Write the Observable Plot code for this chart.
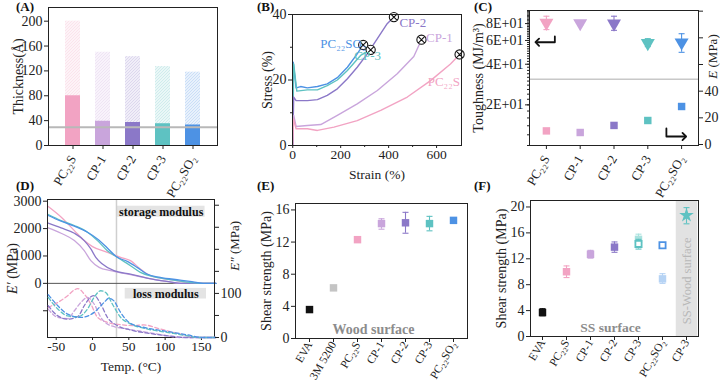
<!DOCTYPE html>
<html><head><meta charset="utf-8">
<script src="https://cdn.jsdelivr.net/npm/d3@7"></script>
<script src="https://cdn.jsdelivr.net/npm/@observablehq/plot@0.6"></script>
<style>
body{margin:0;background:#fff;}
#root{position:relative;width:720px;height:381px;overflow:hidden;background:#fff;}
#root svg{position:absolute;}
.pl{position:absolute;font:bold 13px "Liberation Serif",serif;color:#111;line-height:15px;}
</style></head><body><div id="root"></div>
<script>
// ---------- shared categories ----------
const samples = ["PC22S","CP-1","CP-2","CP-3","PC22SO2"];
const sampleText = ["PC₂₂S","CP-1","CP-2","CP-3","PC₂₂SO₂"];
const palette = ["#f2a3c3","#c9a5dc","#8b78c8","#5ec2c2","#4d92e4"];

// ---------- (A) thickness ----------
const thickTotal = [200,150,143,127,118];
const thickInner = [80,39,37,35,33];
const thickRef = [29.5];

// ---------- (B) stress–strain [strain, stress] ----------
const ssPC22SO2 = [[0,0],[2,25.4],[14,17.6],[33,18],[61,17.6],[103,18],[144,18.8],[186,20.7],[228,23.9],[269,28],[294,30.7]];
const ssCP3 = [[0,0],[4,24.9],[17,16.6],[61,17],[103,17],[144,18.3],[186,20],[228,22.9],[283,27.5],[325,29.2]];
const ssCP2 = [[0,0],[4,14.8],[14,13.7],[61,13.7],[103,14],[144,15.3],[186,17.3],[228,20.4],[269,23.9],[311,28],[353,32.6],[394,37.2],[422,39.2]];
const ssCP1 = [[0,0],[4,9.2],[14,5.8],[61,6.1],[117,6.4],[186,9.2],[269,12.7],[353,16.8],[436,21.9],[505,27.2],[537,32.3]];
const ssPC22S = [[0,0],[3,8.1],[14,5.1],[61,5.1],[103,4.6],[172,5.6],[269,7.6],[367,10.7],[478,14.8],[575,19.8],[658,24.9],[696,27.8]];
const labelsB = [
  {s:"PC22SO2", text:"PC₂₂SO₂", x:115, y:31.1},
  {s:"CP-3", text:"CP-3", x:257, y:27.5},
  {s:"CP-2", text:"CP-2", x:445, y:37.4},
  {s:"CP-1", text:"CP-1", x:556, y:33},
  {s:"PC22S", text:"PC₂₂S", x:563, y:19.3}
];

// ---------- (C) toughness (log, left) & modulus (right) ----------
const toughness = [81,80.5,80,57.3,58];
const toughLo = [72.2,78,71.3,54,49];
const toughHi = [90.7,83,90.7,61.9,67.3];
const modulusE = [10.2,9.0,14.3,18.0,28.5];
const modulusLo = [10.2,9.0,14.3,18.0,27];
const modulusHi = [10.2,9.0,14.3,18.0,30];
const dividerC = [31];
const arrowLeftC = [[0.25,64.3],[0.25,58.2],[-0.27,58.2]];   // [index, toughness]
const arrowRightC = [[3.55,12],[3.55,6],[4.08,6]];           // [index, E]

// ---------- (D) DMA [T, value] ----------
const stPC22S = [[-61,2806],[-43,2415],[-25,1927],[-11.4,1561],[0,1342],[20.4,1134],[38.6,951],[52.3,829],[65.9,524],[79.6,280],[102.3,158],[129.6,37],[143,0],[170,0]];
const stCP3 = [[-61,2514],[-43.3,2294],[-25,2112],[-6.9,1868],[6.8,1561],[20.4,1195],[34.1,951],[52.3,646],[65.9,402],[84.1,244],[111.4,122],[134.1,37],[148,0],[170,0]];
const stPC22SO2 = [[-61,2478],[-43.3,2270],[-25,2087],[-6.9,1868],[6.8,1622],[20.4,1293],[34.1,951],[47.8,805],[61.4,585],[75,341],[93.2,219],[120.5,122],[134.1,73],[152.3,0],[170,0]];
const stCP2 = [[-61,2197],[-43.3,2026],[-25,1831],[-11.4,1561],[-2.3,1256],[4.5,951],[13.6,707],[29.5,463],[52.3,341],[75,195],[102.3,73],[125,0],[170,0]];
const stCP1 = [[-61,2026],[-43.3,1831],[-25,1561],[-11.4,1195],[-2.3,829],[9.1,585],[25,463],[52.3,317],[75,195],[102.3,73],[120.5,0],[170,0]];
const lsPC22S = [[-61,68],[-47.8,79.5],[-34.2,94.7],[-25,108],[-20.5,111],[-11.4,98.5],[-2.3,76],[6.8,45.9],[20.4,34.5],[38.6,29.2],[56.8,27],[70.5,28.5],[93.2,19.4],[120.5,8],[143,0],[170,0]];
const lsCP3 = [[-61,91],[-47.8,64.5],[-34.2,49],[-20.5,47],[-6.9,64.5],[2.2,91],[11.3,106],[18.2,102],[27.3,76],[38.6,45.9],[52.3,30.8],[75,19.4],[102.3,11.8],[129.6,4.2],[148,0],[170,0]];
const lsPC22SO2 = [[-61,97],[-47.8,72],[-34.2,53],[-16,45.5],[2.2,57],[15.9,79.5],[22.7,89],[29.5,83],[38.6,57],[52.3,32],[75,21.5],[102.3,13.9],[129.6,6.3],[152.3,0],[170,0]];
const lsCP2 = [[-61,72],[-47.8,49],[-34.2,41.7],[-20.5,47],[-11.4,72],[-2.3,92.5],[2.2,95],[11.3,76],[20.4,45.9],[34.1,27],[52.3,17],[79.6,9],[111.4,2.3],[129.6,0],[170,0]];
const lsCP1 = [[-61,64.5],[-47.8,45.5],[-34.2,43],[-25,60.6],[-16,79.5],[-6.9,91],[2.2,76],[11.3,45.9],[25,27],[47.8,19.4],[75,11.8],[102.3,4.2],[120.5,0],[170,0]];
const tempMark = [33];
const boxesD = [
  {text:"storage modulus", x1:34, x2:155, y1:2415, y2:2817},
  {text:"loss modulus", x1:45, x2:157, y1:-571, y2:-183}
];

// ---------- (E) wood lap shear ----------
const woodCats = ["EVA","3M 5200","PC22S","CP-1","CP-2","CP-3","PC22SO2"];
const woodText = ["EVA","3M 5200","PC₂₂S","CP-1","CP-2","CP-3","PC₂₂SO₂"];
const woodShear = [3.6,6.3,12.3,14.3,14.4,14.3,14.7];
const woodLo = [3.5,6.2,12.2,13.6,13.1,13.4,14.5];
const woodHi = [3.7,6.4,12.4,14.9,15.7,15.2,14.9];

// ---------- (F) stainless-steel lap shear ----------
const ssCats = ["EVA","PC22S","CP-1","CP-2","CP-3","PC22SO2","CP-3*"];
const ssText = ["EVA","PC₂₂S","CP-1","CP-2","CP-3","PC₂₂SO₂","CP-3"];
const ssFilledCats = ["EVA","PC22S","CP-1","CP-2"];
const ssFilled = [3.7,10.0,12.7,13.8];
const ssFilledLo = [3.2,9.1,12.1,13.0];
const ssFilledHi = [4.3,10.9,13.3,14.6];
const ssLightCats = ["CP-3","PC22SO2"];
const ssLight = [15.0,8.9];
const ssLightLo = [14.4,8.2];
const ssLightHi = [15.8,9.7];
const ssOpenCats = ["CP-3","PC22SO2"];
const ssOpen = [14.3,14.1];
const ssOpenLo = [13.5,13.7];
const ssOpenHi = [15.0,14.4];
const ssWoodCats = ["CP-3*"];
const ssWood = [18.7];
const ssWoodLo = [17.4];
const ssWoodHi = [19.9];

// ================= rendering =================
const root = document.getElementById("root");
const FONT = "Liberation Serif";
const AX = "#222";
const st = (fs=13)=>({fontFamily:FONT,fontSize:fs+"px",color:AX,background:"transparent",overflow:"visible"});
function put(svg,left,top){svg.style.left=left+"px";svg.style.top=top+"px";root.appendChild(svg);return svg;}
function plabel(t,left,top){const d=document.createElement("div");d.className="pl";d.textContent=t;d.style.left=left+"px";d.style.top=top+"px";root.appendChild(d);}
const sText = d=>sampleText[samples.indexOf(d)];
const plain = d=>String(d);
const otimes = {draw(ctx,size){const r=Math.sqrt(size/Math.PI);ctx.moveTo(r,0);ctx.arc(0,0,r,0,2*Math.PI);const a=r*0.72;ctx.moveTo(-a,-a);ctx.lineTo(a,a);ctx.moveTo(-a,a);ctx.lineTo(a,-a);}};
const hbar = {draw(ctx,size){const r=Math.sqrt(size/Math.PI);ctx.moveTo(-r,0);ctx.lineTo(r,0);}};
const pairs = (arr,s)=>arr.map(([x,y])=>({s,x,y}));
const errMarks = (data,x,stroke)=>[
  Plot.ruleX(data,{x,y1:"lo",y2:"hi",stroke,strokeWidth:1.1}),
  Plot.dot(data,{x,y:"lo",symbol:hbar,r:3,stroke,fill:"none",strokeWidth:1.1}),
  Plot.dot(data,{x,y:"hi",symbol:hbar,r:3,stroke,fill:"none",strokeWidth:1.1})
];

// (A)
const tableA = samples.map((s,i)=>({s,total:thickTotal[i],inner:thickInner[i]}));
const svgA = Plot.plot({
  width:240,height:190,marginLeft:48,marginRight:23,marginTop:7,marginBottom:45,style:st(14),
  x:{domain:samples,padding:0.5,label:null},
  y:{domain:[0,222],label:null},
  color:{domain:samples,range:palette},
  marks:[
    ...samples.map((s,i)=>Plot.barY(tableA.filter(d=>d.s===s),{x:"s",y:"total",fill:`url(#hatchA${i})`})),
    Plot.barY(tableA,{x:"s",y:"inner",fill:"s"}),
    Plot.ruleY(thickRef,{stroke:"#b8b8b8",strokeWidth:2}),
    Plot.frame({stroke:AX}),
    Plot.axisX({tickRotate:-60,tickFormat:sText,tickSize:4,label:null,fontSize:13}),
    Plot.axisY({ticks:[0,40,80,120,160,200],tickSize:4,tickPadding:2,tickFormat:plain,label:"Thickness(Å)",labelAnchor:"center",labelArrow:"none",labelOffset:35,fontSize:14})
  ]
});
put(svgA,0,0);
(function(){const ns="http://www.w3.org/2000/svg";const defs=document.createElementNS(ns,"defs");
  palette.forEach((c,i)=>{const p=document.createElementNS(ns,"pattern");p.setAttribute("id","hatchA"+i);p.setAttribute("patternUnits","userSpaceOnUse");p.setAttribute("width",3);p.setAttribute("height",3);
  p.innerHTML=`<rect width="3" height="3" fill="${c}" fill-opacity="0.13"/><path d="M-1,1l2,-2M0,3l3,-3M2,4l2,-2" stroke="${c}" stroke-opacity="0.32" stroke-width="0.6"/>`;defs.appendChild(p);});
  svgA.insertBefore(defs,svgA.firstChild);})();

// (B)
const rowsB = [...pairs(ssPC22SO2,"PC22SO2"),...pairs(ssCP3,"CP-3"),...pairs(ssCP2,"CP-2"),...pairs(ssCP1,"CP-1"),...pairs(ssPC22S,"PC22S")];
const breaksB = [[ssPC22SO2,"PC22SO2"],[ssCP3,"CP-3"],[ssCP2,"CP-2"],[ssCP1,"CP-1"],[ssPC22S,"PC22S"]].map(([a,s])=>({s,x:a[a.length-1][0],y:a[a.length-1][1]}));
const svgB = Plot.plot({
  width:240,height:190,marginLeft:52,marginRight:19,marginTop:14,marginBottom:45,style:st(14),
  x:{domain:[-1,704],label:null},
  y:{domain:[0,40],label:null},
  color:{domain:samples,range:palette},
  marks:[
    Plot.line(rowsB,{x:"x",y:"y",z:"s",stroke:"s",strokeWidth:1.4}),
    Plot.dot(breaksB,{x:"x",y:"y",symbol:otimes,r:4.6,stroke:"#111",fill:"white",strokeWidth:1.1}),
    Plot.text(labelsB,{x:"x",y:"y",text:"text",fill:"s",textAnchor:"start",fontSize:13}),
    Plot.frame({stroke:AX}),
    Plot.axisX({ticks:[100,300,500],tickSize:2,tickFormat:()=>""}),
    Plot.axisX({ticks:[0,200,400,600],tickSize:3,tickPadding:1,tickFormat:plain,fontSize:13.5,label:"Strain (%)",labelAnchor:"center",labelArrow:"none",labelOffset:33}),
    Plot.axisY({ticks:[10,30],tickSize:2,tickFormat:()=>""}),
    Plot.axisY({ticks:[0,20,40],tickSize:4,tickPadding:2,tickFormat:plain,label:"Stress (%)",labelAnchor:"center",labelArrow:"none",labelOffset:30})
  ]
});
put(svgB,240,0);

// (C)
const tableC = samples.map((s,i)=>({i,s,t:toughness[i],lo:toughLo[i],hi:toughHi[i],e:modulusE[i],elo:modulusLo[i],ehi:modulusHi[i]}));
const tableCE = tableC.map(d=>({i:d.i,s:d.s,v:d.e,lo:d.elo,hi:d.ehi}));
const tableCT = tableC.map(d=>({i:d.i,s:d.s,v:d.t,lo:d.lo,hi:d.hi}));
const geoC = {width:250,height:190,marginLeft:59,marginRight:22,marginTop:10,marginBottom:45};
const xC = {domain:[-0.5,4.5],label:null};
const svgC1 = Plot.plot({
  ...geoC,style:st(14),
  x:xC,
  y:{type:"log",domain:[10,100],label:null},
  color:{domain:samples,range:palette},
  marks:[
    Plot.ruleY(dividerC,{stroke:"#c8c8c8",strokeWidth:1.5}),
    ...errMarks(tableCT,"i","s"),
    Plot.dot(tableCT,{x:"i",y:"v",symbol:"triangle",rotate:180,r:5.2,fill:"s"}),
    Plot.line(arrowLeftC,{x:d=>d[0],y:d=>d[1],stroke:"#111",strokeWidth:1.8,markerEnd:"arrow"}),
    Plot.frame({stroke:AX}),
    Plot.axisX({ticks:[0,1,2,3,4],tickRotate:-60,tickFormat:i=>sampleText[i],tickSize:4,label:null,fontSize:13}),
    Plot.axisY({ticks:d3.range(10,101,2),tickSize:2,tickFormat:()=>""}),
    Plot.axisY({ticks:[20,40,60,80],tickSize:4,tickPadding:2,tickFormat:d=>(d/10)+"E+01",label:"Toughness (MJ/m³)",labelAnchor:"center",labelArrow:"none",labelOffset:56})
  ]
});
put(svgC1,470,0);
const svgC2 = Plot.plot({
  ...geoC,style:st(14),
  x:{...xC,axis:null},
  y:{domain:[-0.75,100.5],label:null},
  color:{domain:samples,range:palette},
  marks:[
    Plot.ruleX(tableCE,{x:"i",y1:"lo",y2:"hi",stroke:"s",strokeWidth:1.2}),
    Plot.dot(tableCE,{x:"i",y:"v",symbol:"square",r:4.2,fill:"s"}),
    Plot.line(arrowRightC,{x:d=>d[0],y:d=>d[1],stroke:"#111",strokeWidth:1.8,markerEnd:"arrow"}),
    Plot.axisY({anchor:"right",ticks:[0,20,40,60,80,100],tickSize:4,tickPadding:2,tickFormat:d=>d<=40?d:"",label:null}),
    Plot.text(["E (MPa)"],{y:()=>66,frameAnchor:"right",textAnchor:"middle",lineAnchor:"middle",rotate:-90,dx:14,text:d=>d,fontSize:13,fill:AX})
  ]
});
put(svgC2,470,0);

// (D)
const geoD = {width:240,height:191,marginLeft:47,marginRight:26,marginTop:9,marginBottom:44};
const rowsSt = [...pairs(stPC22S,"PC22S"),...pairs(stCP1,"CP-1"),...pairs(stCP2,"CP-2"),...pairs(stCP3,"CP-3"),...pairs(stPC22SO2,"PC22SO2")];
const rowsLs = [...pairs(lsPC22S,"PC22S"),...pairs(lsCP1,"CP-1"),...pairs(lsCP2,"CP-2"),...pairs(lsCP3,"CP-3"),...pairs(lsPC22SO2,"PC22SO2")];
const svgD1 = Plot.plot({
  ...geoD,style:st(14),
  x:{domain:[-62,168],label:null},
  y:{domain:[-1976,3062],label:null},
  color:{domain:samples,range:palette},
  marks:[
    Plot.rect(boxesD,{x1:"x1",x2:"x2",y1:"y1",y2:"y2",fill:"#e4e4e4"}),
    Plot.text(boxesD,{x:d=>(d.x1+d.x2)/2,y:d=>(d.y1+d.y2)/2,text:"text",fontWeight:"bold",fontSize:12,fill:"#111"}),
    Plot.ruleX(tempMark,{stroke:"#cfcfcf",strokeWidth:1.5}),
    Plot.ruleY([0],{stroke:"#555",strokeWidth:1}),
    Plot.line(rowsSt,{x:"x",y:"y",z:"s",stroke:"s",strokeWidth:1.3,curve:"monotone-x"}),
    Plot.frame({stroke:AX}),
    Plot.axisX({ticks:[-50,0,50,100,150],tickSize:3,tickPadding:1,tickFormat:plain,fontSize:13.5,label:"Temp. (°C)",labelAnchor:"center",labelArrow:"none",labelOffset:33}),
    Plot.axisY({ticks:[-1000,0,1000,2000,3000],tickSize:4,tickPadding:2,tickFormat:d=>d>=0?String(d):"",label:"E′ (MPa)",labelAnchor:"center",labelArrow:"none",labelOffset:40})
  ]
});
put(svgD1,0,190);
const svgD2 = Plot.plot({
  ...geoD,style:st(14),
  x:{domain:[-62,168],label:null,axis:null},
  y:{domain:[0,313],label:null},
  color:{domain:samples,range:palette},
  marks:[
    Plot.line(rowsLs,{x:"x",y:"y",z:"s",stroke:"s",strokeWidth:1.3,strokeDasharray:"4,2.5",curve:"monotone-x"}),
    Plot.axisY({anchor:"right",ticks:[0,50,100,150,200,250,300],tickSize:4,tickPadding:2,tickFormat:d=>(d===0||d===100)?d:"",label:null}),
    Plot.text(["E″ (MPa)"],{y:()=>208,frameAnchor:"right",textAnchor:"middle",lineAnchor:"middle",rotate:-90,dx:20,text:d=>d,fontSize:13,fill:AX})
  ]
});
put(svgD2,0,190);

// (E)
const tableE = woodCats.map((c,i)=>({c,v:woodShear[i],lo:woodLo[i],hi:woodHi[i]}));
const woodColors = ["#111111","#c4c4c4",...palette];
const svgE = Plot.plot({
  width:240,height:191,marginLeft:55,marginRight:13,marginTop:13,marginBottom:43,style:st(14),
  x:{domain:woodCats,padding:0.5,label:null},
  y:{domain:[0,16.8],label:null},
  color:{domain:woodCats,range:woodColors},
  marks:[
    ...errMarks(tableE,"c","c"),
    Plot.dot(tableE,{x:"c",y:"v",symbol:"square",r:4.2,fill:"c"}),
    Plot.text(["Wood surface"],{frameAnchor:"bottom",dy:-9,dx:-8,text:d=>d,textAnchor:"middle",lineAnchor:"middle",fontWeight:"bold",fontSize:14,fill:"#8c8c8c"}),
    Plot.frame({stroke:AX}),
    Plot.axisX({tickRotate:-60,tickFormat:d=>woodText[woodCats.indexOf(d)],tickSize:4,tickPadding:0,label:null,fontSize:11.5}),
    Plot.axisY({ticks:[0,4,8,12,16],tickSize:4,tickPadding:2,tickFormat:plain,label:"Shear strength (MPa)",labelAnchor:"center",labelArrow:"none",labelOffset:34,fontSize:14})
  ]
});
put(svgE,240,190);

// (F)
const mk = (cats,v,lo,hi,g)=>cats.map((c,i)=>({c,v:v[i],lo:lo[i],hi:hi[i],g}));
const fFilled = mk(ssFilledCats,ssFilled,ssFilledLo,ssFilledHi,"filled");
const fLight = mk(ssLightCats,ssLight,ssLightLo,ssLightHi,"light");
const fOpen = mk(ssOpenCats,ssOpen,ssOpenLo,ssOpenHi,"open");
const fWood = mk(ssWoodCats,ssWood,ssWoodLo,ssWoodHi,"wood");
const fBase = d=>({"EVA":"#111111","PC22S":palette[0],"CP-1":palette[1],"CP-2":palette[2],"CP-3":palette[3],"PC22SO2":palette[4],"CP-3*":palette[3]})[d.c];
const fLightColor = d=>d.c==="CP-3"?"#a9e2de":"#b6d3f4";
const fColor = d=>d.g==="light"?fLightColor(d):fBase(d);
const svgF = Plot.plot({
  width:240,height:191,marginLeft:50,marginRight:22,marginTop:10,marginBottom:45,style:st(14),
  x:{domain:ssCats,padding:0.45,label:null},
  y:{domain:[0,21],label:null},
  marks:[
    Plot.ruleX(ssWoodCats,{x:d=>d,y1:0,y2:21,stroke:"#e2e2e2",strokeWidth:21.5}),
    Plot.text(["SS-Wood surface"],{x:()=>"CP-3*",y:()=>8.6,text:d=>d,rotate:-90,textAnchor:"middle",fontSize:12.5,fill:"#b8b8b8"}),
    ...errMarks(fLight,"c",fColor),
    Plot.dot(fLight,{x:"c",y:"v",symbol:"square",r:4.2,fill:fColor}),
    ...errMarks([...fFilled,...fOpen,...fWood],"c",fColor),
    Plot.dot(fFilled,{x:"c",y:"v",symbol:"square",r:4.2,fill:fColor}),
    Plot.dot(fOpen,{x:"c",y:"v",symbol:"square",r:3.5,stroke:fColor,fill:"white",strokeWidth:1.8}),
    Plot.dot(fWood,{x:"c",y:"v",symbol:"star",r:4.6,fill:fColor}),
    Plot.text(["SS surface"],{frameAnchor:"bottom",dy:-9,dx:-4,text:d=>d,textAnchor:"middle",lineAnchor:"middle",fontWeight:"bold",fontSize:13.5,fill:"#8c8c8c"}),
    Plot.frame({stroke:AX}),
    Plot.axisX({tickRotate:-60,tickFormat:d=>ssText[ssCats.indexOf(d)],tickSize:4,tickPadding:0,label:null,fontSize:11.5}),
    Plot.axisY({ticks:[0,4,8,12,16,20],tickSize:4,tickPadding:2,tickFormat:plain,label:"Shear strength (MPa)",labelAnchor:"center",labelArrow:"none",labelOffset:34,fontSize:14})
  ]
});
put(svgF,480,190);

// italic E in modulus labels
root.querySelectorAll("text").forEach(t=>{
  const s=t.textContent;
  if(/^E[′″]? \(MPa\)$/.test(s)){t.innerHTML=`<tspan font-style="italic">${s.split(" ")[0]}</tspan> (MPa)`;}
});

// panel labels
plabel("(A)",16,-1);plabel("(B)",257,-1);plabel("(C)",474,-1);
plabel("(D)",16,178);plabel("(E)",257,178);plabel("(F)",474,178);
</script></body></html>
